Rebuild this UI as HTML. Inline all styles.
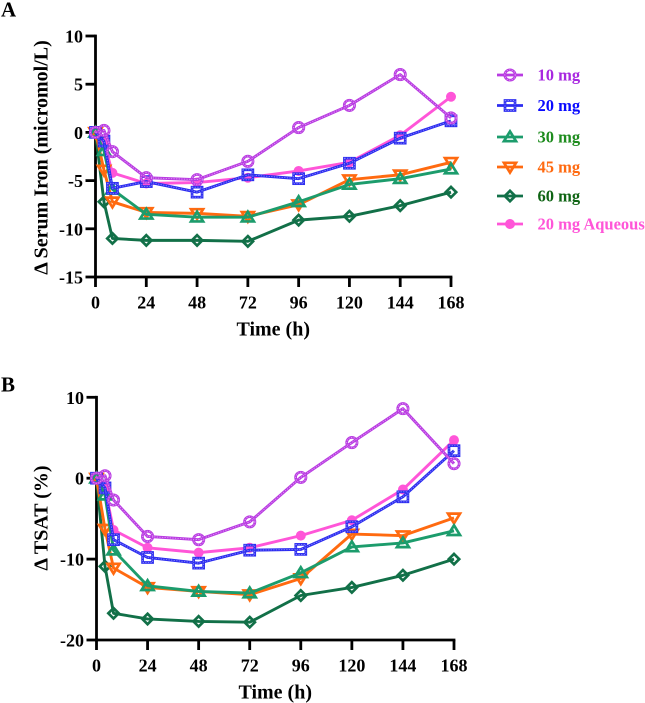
<!DOCTYPE html>
<html>
<head>
<meta charset="utf-8">
<style>
html,body{margin:0;padding:0;background:#fff;}
svg{display:block;}
text{font-family:"Liberation Serif",serif;font-weight:bold;fill:#000;}
</style>
</head>
<body>
<svg id="chart" width="645" height="703" viewBox="0 0 645 703" xmlns="http://www.w3.org/2000/svg"></svg>
<script>
const times = [0, 4, 8, 24, 48, 72, 96, 120, 144, 168];
const xTicks = [0, 24, 48, 72, 96, 120, 144, 168];
const yTicksA = [10, 5, 0, -5, -10, -15];
const yTicksB = [10, 0, -10, -20];
const seriesNames = ['10 mg', '20 mg', '30 mg', '45 mg', '60 mg', '20 mg Aqueous'];

const ironAq = [0, -1, -4.2, -5.3, -5.2, -4.7, -4, -3.1, -0.3, 3.7];
const iron60 = [0, -7.2, -11, -11.2, -11.2, -11.3, -9.1, -8.7, -7.6, -6.2];
const iron45 = [0, -3.9, -7.2, -8.3, -8.4, -8.7, -7.5, -4.9, -4.4, -3.1];
const iron30 = [0, -1.9, -5.9, -8.5, -8.8, -8.8, -7.2, -5.4, -4.8, -3.8];
const iron20 = [0, -0.9, -5.8, -5.1, -6.2, -4.4, -4.8, -3.2, -0.6, 1.2];
const iron10 = [0, 0.2, -2, -4.7, -4.9, -3, 0.5, 2.8, 6, 1.5];

const tsatAq = [0, -1.3, -6.4, -8.6, -9.2, -8.6, -7.1, -5.2, -1.4, 4.7];
const tsat60 = [0, -10.9, -16.7, -17.4, -17.7, -17.8, -14.5, -13.5, -12, -10];
const tsat45 = [0, -6.3, -11.1, -13.5, -14, -14.4, -12.4, -6.9, -7.1, -4.9];
const tsat30 = [0, -2.1, -8.9, -13.3, -14, -14.2, -11.7, -8.5, -8, -6.5];
const tsat20 = [0, -1.2, -7.6, -9.8, -10.5, -8.9, -8.8, -6, -2.3, 3.4];
const tsat10 = [0, 0.3, -2.7, -7.2, -7.6, -5.4, 0.1, 4.4, 8.6, 1.8];

const NS = 'http://www.w3.org/2000/svg';
const root = document.getElementById('chart');

function make(parent, tag, attrs, text) {
  const el = document.createElementNS(NS, tag);
  for (const k in attrs) el.setAttribute(k, attrs[k]);
  if (text !== undefined) el.textContent = text;
  parent.appendChild(el);
  return el;
}

const styles = {
  '10 mg': {line: '#b93ae2', text: '#a828e0', shape: 'circle', slug: '10-mg', stipple: '#dc9cf2', legendY: 75},
  '20 mg': {line: '#2c2cf0', text: '#0a0aff', shape: 'square', slug: '20-mg', stipple: '#8a8af8', legendY: 105.5},
  '30 mg': {line: '#1c9c6c', text: '#1e8c1e', shape: 'up', slug: '30-mg', legendY: 137},
  '45 mg': {line: '#ff6a10', text: '#ff6a10', shape: 'down', slug: '45-mg', legendY: 167},
  '60 mg': {line: '#127048', text: '#0f6414', shape: 'diamond', slug: '60-mg', legendY: 196},
  '20 mg Aqueous': {line: '#ff55d8', text: '#ff55d8', shape: 'dot', slug: '20-mg-aqueous', legendY: 224}
};

function shapeEl(parent, shape, cx, cy, common) {
  if (shape === 'circle') {
    return make(parent, 'circle', Object.assign({cx: cx, cy: cy, r: 5.2}, common));
  }
  if (shape === 'square') {
    return make(parent, 'rect', Object.assign({x: cx - 5, y: cy - 5, width: 10, height: 10}, common));
  }
  if (shape === 'up') {
    const p = [[cx, cy - 5.5], [cx + 6, cy + 4.2], [cx - 6, cy + 4.2]];
    return make(parent, 'polygon', Object.assign({points: p.join(' ')}, common));
  }
  if (shape === 'down') {
    const p = [[cx, cy + 5.5], [cx + 6, cy - 4.2], [cx - 6, cy - 4.2]];
    return make(parent, 'polygon', Object.assign({points: p.join(' ')}, common));
  }
  const p = [[cx, cy - 5.2], [cx + 5.2, cy], [cx, cy + 5.2], [cx - 5.2, cy]];
  return make(parent, 'polygon', Object.assign({points: p.join(' ')}, common));
}

function marker(parent, st, cx, cy) {
  if (st.shape === 'dot') {
    return make(parent, 'circle', {cx: cx, cy: cy, r: 5, fill: st.line, stroke: 'none'});
  }
  const m = shapeEl(parent, st.shape, cx, cy, {fill: 'none', stroke: st.line, 'stroke-width': 2.7});
  if (st.stipple) {
    shapeEl(parent, st.shape, cx, cy, {fill: 'none', stroke: st.stipple, 'stroke-width': 0.9, 'stroke-dasharray': '1.3 1.3'});
  }
  return m;
}

function drawPanel(cfg) {
  const panel = make(root, 'g', {});
  
  

  const xScale = v => cfg.x0 + (cfg.x1 - cfg.x0) * v / 168;
  const yScale = v => cfg.yTop + (cfg.yBot - cfg.yTop) * (cfg.yMax - v) / (cfg.yMax - cfg.yMin);

  const letter = make(panel, 'text', {x: 1, y: cfg.letterY, 'font-size': 21}, cfg.letter);
  
  

  const yAxis = make(panel, 'g', {});
  
  
  make(yAxis, 'line', {x1: cfg.x0, x2: cfg.x0, y1: cfg.yTop - 1.4, y2: cfg.yBot + 1.4, stroke: '#000', 'stroke-width': 2.8});
  cfg.yTicks.forEach(v => {
    const y = yScale(v);
    make(yAxis, 'line', {x1: cfg.x0 - 10, x2: cfg.x0, y1: y, y2: y, stroke: '#000', 'stroke-width': 2.8});
    const t = make(yAxis, 'text', {x: cfg.x0 - 12.5, y: y + 6.5, 'text-anchor': 'end', 'font-size': 18}, v < 0 ? '-' + Math.abs(v) : String(v));
    
    
  });

  const xAxis = make(panel, 'g', {});
  
  
  make(xAxis, 'line', {x1: cfg.x0 - 1.4, x2: cfg.x1 + 1.4, y1: cfg.yBot, y2: cfg.yBot, stroke: '#000', 'stroke-width': 2.8});
  xTicks.forEach(v => {
    const x = xScale(v);
    make(xAxis, 'line', {x1: x, x2: x, y1: cfg.yBot, y2: cfg.yBot + 10, stroke: '#000', 'stroke-width': 2.8});
    const t = make(xAxis, 'text', {x: x, y: cfg.yBot + 31.5, 'text-anchor': 'middle', 'font-size': 18}, String(v));
    
    
  });

  const xTitle = make(panel, 'text', {x: (cfg.x0 + cfg.x1) / 2, y: cfg.yBot + 58.5, 'text-anchor': 'middle', 'font-size': 20}, 'Time (h)');
  
  

  const yTitle = make(panel, 'text', {transform: 'translate(' + cfg.titleX + ' ' + cfg.titleY + ') rotate(-90)', 'text-anchor': 'middle', 'font-size': 20}, cfg.yTitle);
  
  

  const marks = make(panel, 'g', {});
  
  

  cfg.series.forEach(item => {
    const st = styles[item.name];
    const g = make(marks, 'g', {});
    
    
    const pts = item.values.map((v, i) => xScale(times[i]).toFixed(2) + ',' + yScale(v).toFixed(2));
    const line = make(g, 'polyline', {points: pts.join(' '), fill: 'none', stroke: st.line, 'stroke-width': 2.9, 'stroke-linejoin': 'round'});
    
    
    if (st.stipple) {
      make(g, 'polyline', {points: pts.join(' '), fill: 'none', stroke: st.stipple, 'stroke-width': 0.9, 'stroke-dasharray': '1.3 1.3'});
    }
    item.values.forEach((v, i) => {
      const m = marker(g, st, xScale(times[i]), yScale(v));
      
      
    });
  });
}

drawPanel({
  letter: 'A', slug: 'serum-iron', letterY: 16.5,
  x0: 95.5, x1: 451, yTop: 36, yBot: 277, yMax: 10, yMin: -15,
  yTicks: yTicksA, yTitle: '\u0394 Serum Iron (micromol/L)', titleX: 47.5, titleY: 157.5,
  series: [
    {name: '20 mg Aqueous', values: ironAq},
    {name: '60 mg', values: iron60},
    {name: '45 mg', values: iron45},
    {name: '30 mg', values: iron30},
    {name: '20 mg', values: iron20},
    {name: '10 mg', values: iron10}
  ]
});

drawPanel({
  letter: 'B', slug: 'tsat', letterY: 391.5,
  x0: 96.5, x1: 454, yTop: 397.3, yBot: 640, yMax: 10, yMin: -20,
  yTicks: yTicksB, yTitle: '\u0394 TSAT (%)', titleX: 47.5, titleY: 518,
  series: [
    {name: '20 mg Aqueous', values: tsatAq},
    {name: '60 mg', values: tsat60},
    {name: '45 mg', values: tsat45},
    {name: '30 mg', values: tsat30},
    {name: '20 mg', values: tsat20},
    {name: '10 mg', values: tsat10}
  ]
});

const legend = make(root, 'g', {});


seriesNames.forEach(name => {
  const st = styles[name];
  const y = st.legendY;
  const row = make(legend, 'g', {});
  
  
  make(row, 'line', {x1: 497, x2: 523, y1: y, y2: y, stroke: st.line, 'stroke-width': 2.7});
  marker(row, st, 510, y);
  make(row, 'text', {x: 537.5, y: y + 5.5, 'font-size': 16.5}, name).style.fill = st.text;
});
</script>
</body>
</html>
